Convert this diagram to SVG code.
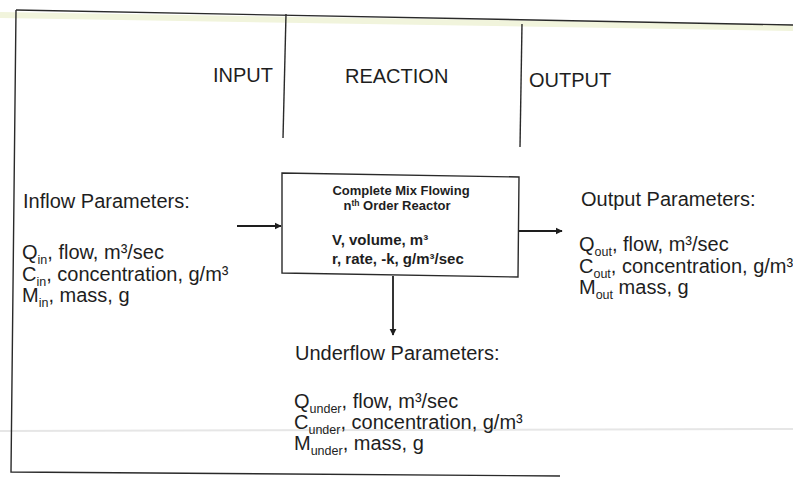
<svg xmlns="http://www.w3.org/2000/svg" width="793" height="480" viewBox="0 0 793 480">
<style>
.t{font-family:"Liberation Sans",Arial,sans-serif;font-size:20px;fill:#1e1e1e}
.b{font-family:"Liberation Sans",Arial,sans-serif;font-weight:bold;fill:#1e1e1e}
.sub{font-size:12.5px}
.ln{stroke:#2a2a2a;stroke-width:1.4;fill:none}
.cn{stroke:#1e1e1e;stroke-width:1.8;fill:none}
</style>
<defs>
<marker id="ah" viewBox="0 0 10 10" refX="9" refY="5" markerWidth="4" markerHeight="4" orient="auto" markerUnits="strokeWidth">
<path d="M0,0 L10,5 L0,10 z" fill="#1e1e1e"/>
</marker>
</defs>
<rect width="793" height="480" fill="#ffffff"/>
<!-- scan artifacts -->
<line x1="0" y1="15" x2="793" y2="28" stroke="#f1f4dc" stroke-width="6"/>
<line x1="0" y1="431" x2="793" y2="429" stroke="#e6e6e6" stroke-width="2"/>
<!-- frame -->
<g id="frame">
<path class="ln" d="M16,10 L793,25"/>
<path class="ln" d="M16,10 L11,472 L560,476"/>
<path class="ln" d="M286,14 L283,138"/>
<path class="ln" d="M522,24 L520,147"/>
</g>
<g id="headers">
<text class="t" x="213" y="82">INPUT</text>
<text class="t" x="345" y="83">REACTION</text>
<text class="t" x="529" y="87">OUTPUT</text>
</g>
<g id="reactor">
<polygon class="ln" points="282,173 519,177 518,277 282,273" fill="#fff" stroke-width="1.6"/>
<text class="b" x="401" y="195" font-size="13" text-anchor="middle">Complete Mix Flowing</text>
<text class="b" x="397" y="210" font-size="13" text-anchor="middle">n<tspan font-size="8.5" dy="-4.5">th</tspan><tspan dy="4.5"> Order Reactor</tspan></text>
<text class="b" x="332" y="245" font-size="15">V, volume, m³</text>
<text class="b" x="332" y="264" font-size="15">r, rate, -k, g/m³/sec</text>
</g>
<g id="inflow">
<text class="t" x="23" y="208">Inflow Parameters:</text>
<text class="t" x="22" y="259">Q<tspan class="sub" dy="5">in</tspan><tspan dy="-5">, flow, m³/sec</tspan></text>
<text class="t" x="22" y="281">C<tspan class="sub" dy="5">in</tspan><tspan dy="-5">, concentration, g/m³</tspan></text>
<text class="t" x="22" y="302">M<tspan class="sub" dy="5">in</tspan><tspan dy="-5">, mass, g</tspan></text>
</g>
<g id="output">
<text class="t" x="581" y="206">Output Parameters:</text>
<text class="t" x="579" y="251">Q<tspan class="sub" dy="5">out</tspan><tspan dy="-5">, flow, m³/sec</tspan></text>
<text class="t" x="579" y="273">C<tspan class="sub" dy="5">out</tspan><tspan dy="-5">, concentration, g/m³</tspan></text>
<text class="t" x="579" y="294">M<tspan class="sub" dy="5">out</tspan><tspan dy="-5"> mass, g</tspan></text>
</g>
<g id="underflow">
<text class="t" x="295" y="360">Underflow Parameters:</text>
<text class="t" x="294" y="408">Q<tspan class="sub" dy="5">under</tspan><tspan dy="-5">, flow, m³/sec</tspan></text>
<text class="t" x="294" y="429">C<tspan class="sub" dy="5">under</tspan><tspan dy="-5">, concentration, g/m³</tspan></text>
<text class="t" x="294" y="450">M<tspan class="sub" dy="5">under</tspan><tspan dy="-5">, mass, g</tspan></text>
</g>
<g id="connectors">
<line class="cn" x1="237" y1="226" x2="281" y2="226" marker-end="url(#ah)"/>
<line class="cn" x1="519" y1="231" x2="562" y2="231" marker-end="url(#ah)"/>
<line class="cn" x1="393" y1="276" x2="393" y2="335" marker-end="url(#ah)"/>
</g>
</svg>
